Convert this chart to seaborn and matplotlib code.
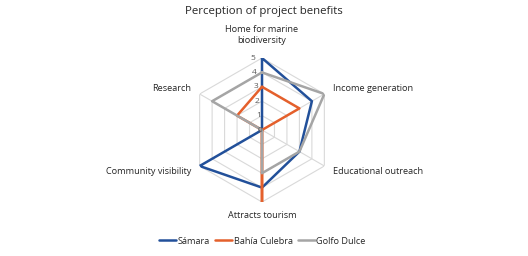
import numpy as np
import pandas as pd
import matplotlib
matplotlib.use("Agg")
import matplotlib.pyplot as plt
import seaborn as sns

sns.set_style("white")
plt.rcParams["font.family"] = ["Open Sans", "DejaVu Sans"]

# data
categories = ["Home for marine\nbiodiversity", "Income generation", "Educational outreach",
              "Attracts tourism", "Community visibility", "Research"]
samara = [5, 4, 3, 4, 5, 0]
bahia_culebra = [3, 3, 0, 5, 0, 2]
golfo_dulce = [4, 5, 3, 3, 0, 4]
sites = ["Sámara", "Bahía Culebra", "Golfo Dulce"]
ticks = [0, 1, 2, 3, 4, 5]

SAMARA_BLUE = "#22509A"
BAHIA_ORANGE = "#E4602C"
GOLFO_GRAY = "#A5A5A5"
GRID = "#D9D9D9"
TEXT = "#262626"

n = len(categories)
angles = np.arange(n) * 2 * np.pi / n

rows = []
for site, vals in zip(sites, [samara, bahia_culebra, golfo_dulce]):
    for a, v in zip(list(angles) + [angles[0] + 2 * np.pi], vals + [vals[0]]):
        rows.append({"Site": site, "theta": a, "value": v})
df = pd.DataFrame(rows)

fig = plt.figure(figsize=(5.28, 2.56), dpi=100)
W, H = 528, 256
cx, cy, R = 262, 130, 72
ax = fig.add_axes([(cx - R) / W, (H - cy - R) / H, 2 * R / W, 2 * R / H], projection="polar")
ax.set_theta_offset(np.pi / 2)
ax.set_theta_direction(-1)
ax.set_ylim(0, 5)
ax.grid(False)
ax.spines["polar"].set_visible(False)
ax.set_xticks([])
ax.set_yticks([])
ax.patch.set_alpha(0)

# hexagonal grid
hex_a = list(angles) + [angles[0]]
for t in ticks[1:]:
    ax.plot(hex_a, [t] * len(hex_a), color=GRID, lw=0.8, zorder=0)
for a in angles:
    ax.plot([a, a], [0, 5], color=GRID, lw=0.8, zorder=0)

sns.lineplot(data=df, x="theta", y="value", hue="Site", sort=False, estimator=None,
             units="Site", palette={"Sámara": SAMARA_BLUE, "Bahía Culebra": BAHIA_ORANGE,
                                    "Golfo Dulce": GOLFO_GRAY},
             linewidth=1.8, ax=ax, legend=False)
ax.set_xlabel("")
ax.set_ylabel("")

for t in ticks:
    ax.text(-0.09, t, str(t), fontsize=6, color="#595959", ha="right", va="center")

label_pos = [(5.9, "center", "bottom"), (5.7, "left", "center"), (5.7, "left", "center"),
             (5.6, "center", "top"), (5.7, "right", "center"), (5.7, "right", "center")]
for a, lab, (r, ha, va) in zip(angles, categories, label_pos):
    ax.text(a, r, lab, fontsize=6.6, color=TEXT, ha=ha, va=va, linespacing=1.3)

fig.suptitle("Perception of project benefits", y=0.975, fontsize=8.2, color=TEXT)

handles = [plt.Line2D([], [], color=c, lw=1.8) for c in [SAMARA_BLUE, BAHIA_ORANGE, GOLFO_GRAY]]
fig.legend(handles, sites, loc="center", bbox_to_anchor=(0.497, 0.058), ncol=3, frameon=False,
           fontsize=6.6, handlelength=1.8, handletextpad=0.2, columnspacing=0.6,
           labelcolor=TEXT)

fig.savefig("out.png", dpi=100)
